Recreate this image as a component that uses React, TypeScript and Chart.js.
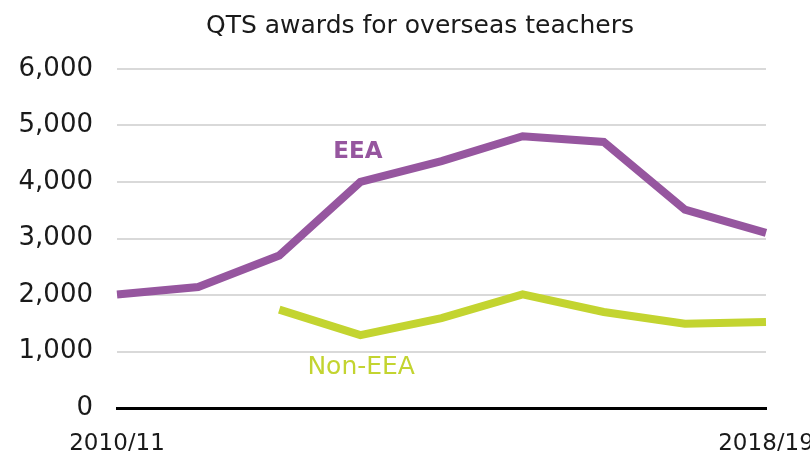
import React, { useEffect, useRef } from "react";
import { Chart, registerables } from "chart.js";

Chart.register(...registerables);

const categories = [
  "2010/11", "2011/12", "2012/13", "2013/14", "2014/15",
  "2015/16", "2016/17", "2017/18", "2018/19",
];
const eeaValues = [2010, 2140, 2700, 4000, 4370, 4810, 4710, 3510, 3100];
const nonEeaValues = [null, null, 1740, 1290, 1590, 2010, 1700, 1490, 1520];
const yTicks = [0, 1000, 2000, 3000, 4000, 5000, 6000];
const shownXLabels = ["2010/11", "2018/19"];

const TITLE = "QTS awards for overseas teachers";
const PURPLE = "#96569f";
const GREEN = "#c3d430";
const FONT = "'DejaVu Sans', sans-serif";

const seriesLabels = [
  { text: "EEA", at: { x: 2.97, y: 4530 }, color: PURPLE, weight: "bold", size: 23 },
  { text: "Non-EEA", at: { x: 3.01, y: 708 }, color: GREEN, weight: "normal", size: 25 },
];

const overlayPlugin = {
  id: "overlay",
  afterDatasetsDraw(chart: any) {
    const { ctx, scales } = chart;
    ctx.save();
    ctx.textAlign = "center";
    ctx.textBaseline = "middle";
    for (const l of seriesLabels) {
      ctx.font = `${l.weight} ${l.size}px ${FONT}`;
      ctx.fillStyle = l.color;
      ctx.fillText(l.text, scales.x.getPixelForValue(l.at.x), scales.y.getPixelForValue(l.at.y));
    }
    ctx.font = `normal 25px ${FONT}`;
    ctx.fillStyle = "#1a1a1a";
    ctx.textBaseline = "alphabetic";
    ctx.fillText(TITLE, 420, 33);
    ctx.restore();
  },
};

export default function App() {
  const ref = useRef<HTMLCanvasElement | null>(null);
  useEffect(() => {
    document.body.style.margin = "0";
    const chart = new Chart(ref.current as HTMLCanvasElement, {
      type: "line",
      data: {
        labels: categories,
        datasets: [
          {
            label: "EEA",
            data: eeaValues,
            borderColor: PURPLE,
            borderWidth: 8,
            pointRadius: 0,
            tension: 0,
            borderCapStyle: "butt",
            borderJoinStyle: "miter",
          },
          {
            label: "Non-EEA",
            data: nonEeaValues as any,
            borderColor: GREEN,
            borderWidth: 8,
            pointRadius: 0,
            tension: 0,
            borderCapStyle: "butt",
            borderJoinStyle: "miter",
          },
        ],
      },
      options: {
        animation: false,
        responsive: false,
        maintainAspectRatio: false,
        layout: { padding: { left: 0, right: 44, top: 69, bottom: 0 } },
        plugins: {
          legend: { display: false },
          title: { display: false },
          tooltip: { enabled: false },
        },
        scales: {
          x: {
            type: "category",
            offset: false,
            grid: { display: false, drawTicks: false },
            border: { display: true, color: "#000", width: 3 },
            ticks: {
              autoSkip: false,
              maxRotation: 0,
              minRotation: 0,
              padding: 22,
              color: "#1a1a1a",
              font: { family: FONT, size: 23 },
              callback: (_v: any, i: number) =>
                shownXLabels.includes(categories[i]) ? categories[i] : "",
            },
            afterFit: (s: any) => {
              s.height = 43;
              s.paddingLeft = 0;
              s.paddingRight = 0;
            },
          },
          y: {
            min: 0,
            max: 6000,
            grid: {
              drawTicks: false,
              lineWidth: 2,
              color: (c: any) => (c.tick && c.tick.value === 0 ? "#000" : "#d9d9d9"),
            },
            border: { display: false },
            afterBuildTicks: (s: any) => {
              s.ticks = yTicks.map((v) => ({ value: v }));
            },
            ticks: {
              padding: 24,
              color: "#1a1a1a",
              font: { family: FONT, size: 26 },
              callback: (v: any) => Number(v).toLocaleString("en-US"),
            },
            afterFit: (s: any) => {
              s.width = 117;
              s.paddingTop = 0;
              s.paddingBottom = 0;
            },
          },
        },
      },
      plugins: [overlayPlugin],
    });
    return () => chart.destroy();
  }, []);
  return (
    <div style={{ width: 810, height: 451, background: "#fff" }}>
      <canvas ref={ref} width={810} height={451} style={{ display: "block" }} />
    </div>
  );
}
